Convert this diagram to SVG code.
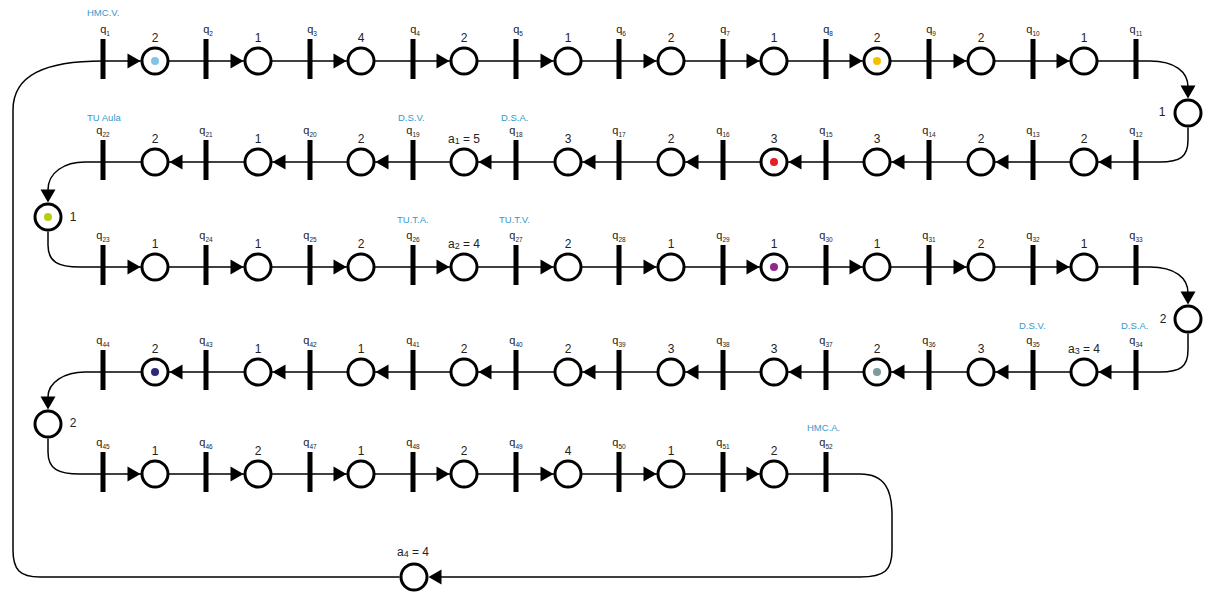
<svg xmlns="http://www.w3.org/2000/svg" xmlns:xlink="http://www.w3.org/1999/xlink" width="1205" height="594" viewBox="0 0 1205 594">
<style>
.bg{fill:#fff}
.ln{fill:none;stroke:#000;stroke-width:1.5}
.tr{fill:#000}
.pl{fill:#fff;stroke:#000;stroke-width:3}
.ah{fill:#000}
.q{font-family:"Liberation Sans",Arial,sans-serif;font-size:11px;fill:#222;text-anchor:middle}
.q tspan{font-size:6.5px}
.n{font-family:"Liberation Sans",Arial,sans-serif;font-size:12px;fill:#222;text-anchor:middle}
.n tspan.s{font-size:9px}
.b{font-family:"Liberation Sans",Arial,sans-serif;font-size:9.5px;fill:#3399cc}
</style>
<defs>
<path id="ah" d="M0,0 L-13,-7.5 L-13,7.5 Z"/>
<rect id="bar" x="-2.5" y="-22" width="5" height="40"/>
</defs>
<rect class="bg" width="1205" height="594"/>

<g id="connectors">
<path class="ln" d="M103,61 H1136"/>
<path class="ln" d="M103,162 H1136"/>
<path class="ln" d="M103,267 H1136"/>
<path class="ln" d="M103,372 H1136"/>
<path class="ln" d="M103,474 H826"/>
<path class="ln" d="M1136,61 H1150 C1175,61 1188,72 1188,87"/>
<path class="ln" d="M1188,127.5 V140 C1188,157 1180,162 1160,162 H1136"/>
<path class="ln" d="M103,162 H85 C65,162 48,172 48,190"/>
<path class="ln" d="M48,231.5 V245 C48,262 58,267 80,267 H103"/>
<path class="ln" d="M1136,267 H1150 C1175,267 1188,278 1188,293"/>
<path class="ln" d="M1188,333.5 V350 C1188,367 1180,372 1160,372 H1136"/>
<path class="ln" d="M103,372 H85 C65,372 48,382 48,397"/>
<path class="ln" d="M48,438.5 V452 C48,469 58,474 80,474 H103"/>
<path class="ln" d="M826,474 H860 C885,474 892,490 892,515 V550 C892,570 885,577 860,577 H440"/>
<path class="ln" d="M399.5,577 H40 C20,577 13,570 13,550 V110 C13,75 45,61 103,61"/>
<g class="ah">
<use href="#ah" transform="translate(140.5,61)"/>
<use href="#ah" transform="translate(243.5,61)"/>
<use href="#ah" transform="translate(346.5,61)"/>
<use href="#ah" transform="translate(449.5,61)"/>
<use href="#ah" transform="translate(553.5,61)"/>
<use href="#ah" transform="translate(656.5,61)"/>
<use href="#ah" transform="translate(759.5,61)"/>
<use href="#ah" transform="translate(862.5,61)"/>
<use href="#ah" transform="translate(966.5,61)"/>
<use href="#ah" transform="translate(1069.5,61)"/>
<use href="#ah" transform="translate(1188,98.5) rotate(90)"/>
<use href="#ah" transform="translate(169.5,162) rotate(180)"/>
<use href="#ah" transform="translate(272.5,162) rotate(180)"/>
<use href="#ah" transform="translate(375.5,162) rotate(180)"/>
<use href="#ah" transform="translate(478.5,162) rotate(180)"/>
<use href="#ah" transform="translate(582.5,162) rotate(180)"/>
<use href="#ah" transform="translate(685.5,162) rotate(180)"/>
<use href="#ah" transform="translate(788.5,162) rotate(180)"/>
<use href="#ah" transform="translate(891.5,162) rotate(180)"/>
<use href="#ah" transform="translate(995.5,162) rotate(180)"/>
<use href="#ah" transform="translate(1098.5,162) rotate(180)"/>
<use href="#ah" transform="translate(48,202.5) rotate(90)"/>
<use href="#ah" transform="translate(140.5,267)"/>
<use href="#ah" transform="translate(243.5,267)"/>
<use href="#ah" transform="translate(346.5,267)"/>
<use href="#ah" transform="translate(449.5,267)"/>
<use href="#ah" transform="translate(553.5,267)"/>
<use href="#ah" transform="translate(656.5,267)"/>
<use href="#ah" transform="translate(759.5,267)"/>
<use href="#ah" transform="translate(862.5,267)"/>
<use href="#ah" transform="translate(966.5,267)"/>
<use href="#ah" transform="translate(1069.5,267)"/>
<use href="#ah" transform="translate(1188,304.5) rotate(90)"/>
<use href="#ah" transform="translate(169.5,372) rotate(180)"/>
<use href="#ah" transform="translate(272.5,372) rotate(180)"/>
<use href="#ah" transform="translate(375.5,372) rotate(180)"/>
<use href="#ah" transform="translate(478.5,372) rotate(180)"/>
<use href="#ah" transform="translate(582.5,372) rotate(180)"/>
<use href="#ah" transform="translate(685.5,372) rotate(180)"/>
<use href="#ah" transform="translate(788.5,372) rotate(180)"/>
<use href="#ah" transform="translate(891.5,372) rotate(180)"/>
<use href="#ah" transform="translate(995.5,372) rotate(180)"/>
<use href="#ah" transform="translate(1098.5,372) rotate(180)"/>
<use href="#ah" transform="translate(48,409.5) rotate(90)"/>
<use href="#ah" transform="translate(140.5,474)"/>
<use href="#ah" transform="translate(243.5,474)"/>
<use href="#ah" transform="translate(346.5,474)"/>
<use href="#ah" transform="translate(449.5,474)"/>
<use href="#ah" transform="translate(553.5,474)"/>
<use href="#ah" transform="translate(656.5,474)"/>
<use href="#ah" transform="translate(759.5,474)"/>
<use href="#ah" transform="translate(428.5,577) rotate(180)"/>
</g>
</g>

<!-- Row 1 transitions -->
<g id="q1"><use class="tr" href="#bar" x="103" y="61"/><text class="q" x="105" y="33">q<tspan dy="3">1</tspan></text></g>
<g id="q2"><use class="tr" href="#bar" x="206" y="61"/><text class="q" x="208" y="33">q<tspan dy="3">2</tspan></text></g>
<g id="q3"><use class="tr" href="#bar" x="310" y="61"/><text class="q" x="312" y="33">q<tspan dy="3">3</tspan></text></g>
<g id="q4"><use class="tr" href="#bar" x="413" y="61"/><text class="q" x="415" y="33">q<tspan dy="3">4</tspan></text></g>
<g id="q5"><use class="tr" href="#bar" x="516" y="61"/><text class="q" x="518" y="33">q<tspan dy="3">5</tspan></text></g>
<g id="q6"><use class="tr" href="#bar" x="619" y="61"/><text class="q" x="621" y="33">q<tspan dy="3">6</tspan></text></g>
<g id="q7"><use class="tr" href="#bar" x="723" y="61"/><text class="q" x="725" y="33">q<tspan dy="3">7</tspan></text></g>
<g id="q8"><use class="tr" href="#bar" x="826" y="61"/><text class="q" x="828" y="33">q<tspan dy="3">8</tspan></text></g>
<g id="q9"><use class="tr" href="#bar" x="929" y="61"/><text class="q" x="931" y="33">q<tspan dy="3">9</tspan></text></g>
<g id="q10"><use class="tr" href="#bar" x="1033" y="61"/><text class="q" x="1033" y="33">q<tspan dy="3">10</tspan></text></g>
<g id="q11"><use class="tr" href="#bar" x="1136" y="61"/><text class="q" x="1136" y="33">q<tspan dy="3">11</tspan></text></g>

<!-- Row 1 places -->
<g id="p1"><circle class="pl" cx="155" cy="61" r="13"/><circle cx="155" cy="61" r="4" fill="#7fc4e3"/><text class="n" x="155" y="42">2</text></g>
<g id="p2"><circle class="pl" cx="258" cy="61" r="13"/><text class="n" x="258" y="42">1</text></g>
<g id="p3"><circle class="pl" cx="361" cy="61" r="13"/><text class="n" x="361" y="42">4</text></g>
<g id="p4"><circle class="pl" cx="464" cy="61" r="13"/><text class="n" x="464" y="42">2</text></g>
<g id="p5"><circle class="pl" cx="568" cy="61" r="13"/><text class="n" x="568" y="42">1</text></g>
<g id="p6"><circle class="pl" cx="671" cy="61" r="13"/><text class="n" x="671" y="42">2</text></g>
<g id="p7"><circle class="pl" cx="774" cy="61" r="13"/><text class="n" x="774" y="42">1</text></g>
<g id="p8"><circle class="pl" cx="877" cy="61" r="13"/><circle cx="877" cy="61" r="4" fill="#f2c200"/><text class="n" x="877" y="42">2</text></g>
<g id="p9"><circle class="pl" cx="981" cy="61" r="13"/><text class="n" x="981" y="42">2</text></g>
<g id="p10"><circle class="pl" cx="1084" cy="61" r="13"/><text class="n" x="1084" y="42">1</text></g>
<g id="p11"><circle class="pl" cx="1188" cy="113" r="13"/><text class="n" x="1162" y="116">1</text></g>

<!-- Row 2 transitions -->
<g id="q22"><use class="tr" href="#bar" x="103" y="162"/><text class="q" x="103" y="134">q<tspan dy="3">22</tspan></text></g>
<g id="q21"><use class="tr" href="#bar" x="206" y="162"/><text class="q" x="206" y="134">q<tspan dy="3">21</tspan></text></g>
<g id="q20"><use class="tr" href="#bar" x="310" y="162"/><text class="q" x="310" y="134">q<tspan dy="3">20</tspan></text></g>
<g id="q19"><use class="tr" href="#bar" x="413" y="162"/><text class="q" x="413" y="134">q<tspan dy="3">19</tspan></text></g>
<g id="q18"><use class="tr" href="#bar" x="516" y="162"/><text class="q" x="516" y="134">q<tspan dy="3">18</tspan></text></g>
<g id="q17"><use class="tr" href="#bar" x="619" y="162"/><text class="q" x="619" y="134">q<tspan dy="3">17</tspan></text></g>
<g id="q16"><use class="tr" href="#bar" x="723" y="162"/><text class="q" x="723" y="134">q<tspan dy="3">16</tspan></text></g>
<g id="q15"><use class="tr" href="#bar" x="826" y="162"/><text class="q" x="826" y="134">q<tspan dy="3">15</tspan></text></g>
<g id="q14"><use class="tr" href="#bar" x="929" y="162"/><text class="q" x="929" y="134">q<tspan dy="3">14</tspan></text></g>
<g id="q13"><use class="tr" href="#bar" x="1033" y="162"/><text class="q" x="1033" y="134">q<tspan dy="3">13</tspan></text></g>
<g id="q12"><use class="tr" href="#bar" x="1136" y="162"/><text class="q" x="1136" y="134">q<tspan dy="3">12</tspan></text></g>

<!-- Row 2 places -->
<g id="p21"><circle class="pl" cx="155" cy="162" r="13"/><text class="n" x="155" y="143">2</text></g>
<g id="p20"><circle class="pl" cx="258" cy="162" r="13"/><text class="n" x="258" y="143">1</text></g>
<g id="p19"><circle class="pl" cx="361" cy="162" r="13"/><text class="n" x="361" y="143">2</text></g>
<g id="p18"><circle class="pl" cx="464" cy="162" r="13"/><text class="n" x="464" y="143">a<tspan class="s" dy="1">1</tspan><tspan dy="-1"> = 5</tspan></text></g>
<g id="p17"><circle class="pl" cx="568" cy="162" r="13"/><text class="n" x="568" y="143">3</text></g>
<g id="p16"><circle class="pl" cx="671" cy="162" r="13"/><text class="n" x="671" y="143">2</text></g>
<g id="p15"><circle class="pl" cx="774" cy="162" r="13"/><circle cx="774" cy="162" r="4" fill="#e31e24"/><text class="n" x="774" y="143">3</text></g>
<g id="p14"><circle class="pl" cx="877" cy="162" r="13"/><text class="n" x="877" y="143">3</text></g>
<g id="p13"><circle class="pl" cx="981" cy="162" r="13"/><text class="n" x="981" y="143">2</text></g>
<g id="p12"><circle class="pl" cx="1084" cy="162" r="13"/><text class="n" x="1084" y="143">2</text></g>
<g id="p22"><circle class="pl" cx="48" cy="217" r="13"/><circle cx="48" cy="217" r="4" fill="#b9cc12"/><text class="n" x="73" y="221">1</text></g>

<!-- Row 3 transitions -->
<g id="q23"><use class="tr" href="#bar" x="103" y="267"/><text class="q" x="103" y="239">q<tspan dy="3">23</tspan></text></g>
<g id="q24"><use class="tr" href="#bar" x="206" y="267"/><text class="q" x="206" y="239">q<tspan dy="3">24</tspan></text></g>
<g id="q25"><use class="tr" href="#bar" x="310" y="267"/><text class="q" x="310" y="239">q<tspan dy="3">25</tspan></text></g>
<g id="q26"><use class="tr" href="#bar" x="413" y="267"/><text class="q" x="413" y="239">q<tspan dy="3">26</tspan></text></g>
<g id="q27"><use class="tr" href="#bar" x="516" y="267"/><text class="q" x="516" y="239">q<tspan dy="3">27</tspan></text></g>
<g id="q28"><use class="tr" href="#bar" x="619" y="267"/><text class="q" x="619" y="239">q<tspan dy="3">28</tspan></text></g>
<g id="q29"><use class="tr" href="#bar" x="723" y="267"/><text class="q" x="723" y="239">q<tspan dy="3">29</tspan></text></g>
<g id="q30"><use class="tr" href="#bar" x="826" y="267"/><text class="q" x="826" y="239">q<tspan dy="3">30</tspan></text></g>
<g id="q31"><use class="tr" href="#bar" x="929" y="267"/><text class="q" x="929" y="239">q<tspan dy="3">31</tspan></text></g>
<g id="q32"><use class="tr" href="#bar" x="1033" y="267"/><text class="q" x="1033" y="239">q<tspan dy="3">32</tspan></text></g>
<g id="q33"><use class="tr" href="#bar" x="1136" y="267"/><text class="q" x="1136" y="239">q<tspan dy="3">33</tspan></text></g>

<!-- Row 3 places -->
<g id="p23"><circle class="pl" cx="155" cy="267" r="13"/><text class="n" x="155" y="248">1</text></g>
<g id="p24"><circle class="pl" cx="258" cy="267" r="13"/><text class="n" x="258" y="248">1</text></g>
<g id="p25"><circle class="pl" cx="361" cy="267" r="13"/><text class="n" x="361" y="248">2</text></g>
<g id="p26"><circle class="pl" cx="464" cy="267" r="13"/><text class="n" x="464" y="248">a<tspan class="s" dy="1">2</tspan><tspan dy="-1"> = 4</tspan></text></g>
<g id="p27"><circle class="pl" cx="568" cy="267" r="13"/><text class="n" x="568" y="248">2</text></g>
<g id="p28"><circle class="pl" cx="671" cy="267" r="13"/><text class="n" x="671" y="248">1</text></g>
<g id="p29"><circle class="pl" cx="774" cy="267" r="13"/><circle cx="774" cy="267" r="4" fill="#8e2a8b"/><text class="n" x="774" y="248">1</text></g>
<g id="p30"><circle class="pl" cx="877" cy="267" r="13"/><text class="n" x="877" y="248">1</text></g>
<g id="p31"><circle class="pl" cx="981" cy="267" r="13"/><text class="n" x="981" y="248">2</text></g>
<g id="p32"><circle class="pl" cx="1084" cy="267" r="13"/><text class="n" x="1084" y="248">1</text></g>
<g id="p33"><circle class="pl" cx="1188" cy="319" r="13"/><text class="n" x="1163" y="323">2</text></g>

<!-- Row 4 transitions -->
<g id="q44"><use class="tr" href="#bar" x="103" y="372"/><text class="q" x="103" y="344">q<tspan dy="3">44</tspan></text></g>
<g id="q43"><use class="tr" href="#bar" x="206" y="372"/><text class="q" x="206" y="344">q<tspan dy="3">43</tspan></text></g>
<g id="q42"><use class="tr" href="#bar" x="310" y="372"/><text class="q" x="310" y="344">q<tspan dy="3">42</tspan></text></g>
<g id="q41"><use class="tr" href="#bar" x="413" y="372"/><text class="q" x="413" y="344">q<tspan dy="3">41</tspan></text></g>
<g id="q40"><use class="tr" href="#bar" x="516" y="372"/><text class="q" x="516" y="344">q<tspan dy="3">40</tspan></text></g>
<g id="q39"><use class="tr" href="#bar" x="619" y="372"/><text class="q" x="619" y="344">q<tspan dy="3">39</tspan></text></g>
<g id="q38"><use class="tr" href="#bar" x="723" y="372"/><text class="q" x="723" y="344">q<tspan dy="3">38</tspan></text></g>
<g id="q37"><use class="tr" href="#bar" x="826" y="372"/><text class="q" x="826" y="344">q<tspan dy="3">37</tspan></text></g>
<g id="q36"><use class="tr" href="#bar" x="929" y="372"/><text class="q" x="929" y="344">q<tspan dy="3">36</tspan></text></g>
<g id="q35"><use class="tr" href="#bar" x="1033" y="372"/><text class="q" x="1033" y="344">q<tspan dy="3">35</tspan></text></g>
<g id="q34"><use class="tr" href="#bar" x="1136" y="372"/><text class="q" x="1136" y="344">q<tspan dy="3">34</tspan></text></g>

<!-- Row 4 places -->
<g id="p43"><circle class="pl" cx="155" cy="372" r="13"/><circle cx="155" cy="372" r="4" fill="#2e2a78"/><text class="n" x="155" y="353">2</text></g>
<g id="p42"><circle class="pl" cx="258" cy="372" r="13"/><text class="n" x="258" y="353">1</text></g>
<g id="p41"><circle class="pl" cx="361" cy="372" r="13"/><text class="n" x="361" y="353">1</text></g>
<g id="p40"><circle class="pl" cx="464" cy="372" r="13"/><text class="n" x="464" y="353">2</text></g>
<g id="p39"><circle class="pl" cx="568" cy="372" r="13"/><text class="n" x="568" y="353">2</text></g>
<g id="p38"><circle class="pl" cx="671" cy="372" r="13"/><text class="n" x="671" y="353">3</text></g>
<g id="p37"><circle class="pl" cx="774" cy="372" r="13"/><text class="n" x="774" y="353">3</text></g>
<g id="p36"><circle class="pl" cx="877" cy="372" r="13"/><circle cx="877" cy="372" r="4" fill="#7d9a9c"/><text class="n" x="877" y="353">2</text></g>
<g id="p35"><circle class="pl" cx="981" cy="372" r="13"/><text class="n" x="981" y="353">3</text></g>
<g id="p34"><circle class="pl" cx="1084" cy="372" r="13"/><text class="n" x="1084" y="353">a<tspan class="s" dy="1">3</tspan><tspan dy="-1"> = 4</tspan></text></g>
<g id="p44"><circle class="pl" cx="48" cy="424" r="13"/><text class="n" x="73" y="427">2</text></g>

<!-- Row 5 transitions -->
<g id="q45"><use class="tr" href="#bar" x="103" y="474"/><text class="q" x="103" y="446">q<tspan dy="3">45</tspan></text></g>
<g id="q46"><use class="tr" href="#bar" x="206" y="474"/><text class="q" x="206" y="446">q<tspan dy="3">46</tspan></text></g>
<g id="q47"><use class="tr" href="#bar" x="310" y="474"/><text class="q" x="310" y="446">q<tspan dy="3">47</tspan></text></g>
<g id="q48"><use class="tr" href="#bar" x="413" y="474"/><text class="q" x="413" y="446">q<tspan dy="3">48</tspan></text></g>
<g id="q49"><use class="tr" href="#bar" x="516" y="474"/><text class="q" x="516" y="446">q<tspan dy="3">49</tspan></text></g>
<g id="q50"><use class="tr" href="#bar" x="619" y="474"/><text class="q" x="619" y="446">q<tspan dy="3">50</tspan></text></g>
<g id="q51"><use class="tr" href="#bar" x="723" y="474"/><text class="q" x="723" y="446">q<tspan dy="3">51</tspan></text></g>
<g id="q52"><use class="tr" href="#bar" x="826" y="474"/><text class="q" x="826" y="446">q<tspan dy="3">52</tspan></text></g>

<!-- Row 5 places -->
<g id="p45"><circle class="pl" cx="155" cy="474" r="13"/><text class="n" x="155" y="455">1</text></g>
<g id="p46"><circle class="pl" cx="258" cy="474" r="13"/><text class="n" x="258" y="455">2</text></g>
<g id="p47"><circle class="pl" cx="361" cy="474" r="13"/><text class="n" x="361" y="455">1</text></g>
<g id="p48"><circle class="pl" cx="464" cy="474" r="13"/><text class="n" x="464" y="455">2</text></g>
<g id="p49"><circle class="pl" cx="568" cy="474" r="13"/><text class="n" x="568" y="455">4</text></g>
<g id="p50"><circle class="pl" cx="671" cy="474" r="13"/><text class="n" x="671" y="455">1</text></g>
<g id="p51"><circle class="pl" cx="774" cy="474" r="13"/><text class="n" x="774" y="455">2</text></g>
<g id="p52"><circle class="pl" cx="414" cy="577" r="13"/><text class="n" x="413" y="556">a<tspan class="s" dy="1">4</tspan><tspan dy="-1"> = 4</tspan></text></g>

<!-- Blue labels -->
<g id="labels">
<text class="b" x="87" y="16">HMC.V.</text>
<text class="b" x="87" y="121">TU Aula</text>
<text class="b" x="398" y="121">D.S.V.</text>
<text class="b" x="501" y="121">D.S.A.</text>
<text class="b" x="397" y="223">TU.T.A.</text>
<text class="b" x="499" y="223">TU.T.V.</text>
<text class="b" x="1019" y="329">D.S.V.</text>
<text class="b" x="1121" y="329">D.S.A.</text>
<text class="b" x="807" y="431">HMC.A.</text>
</g>
</svg>
